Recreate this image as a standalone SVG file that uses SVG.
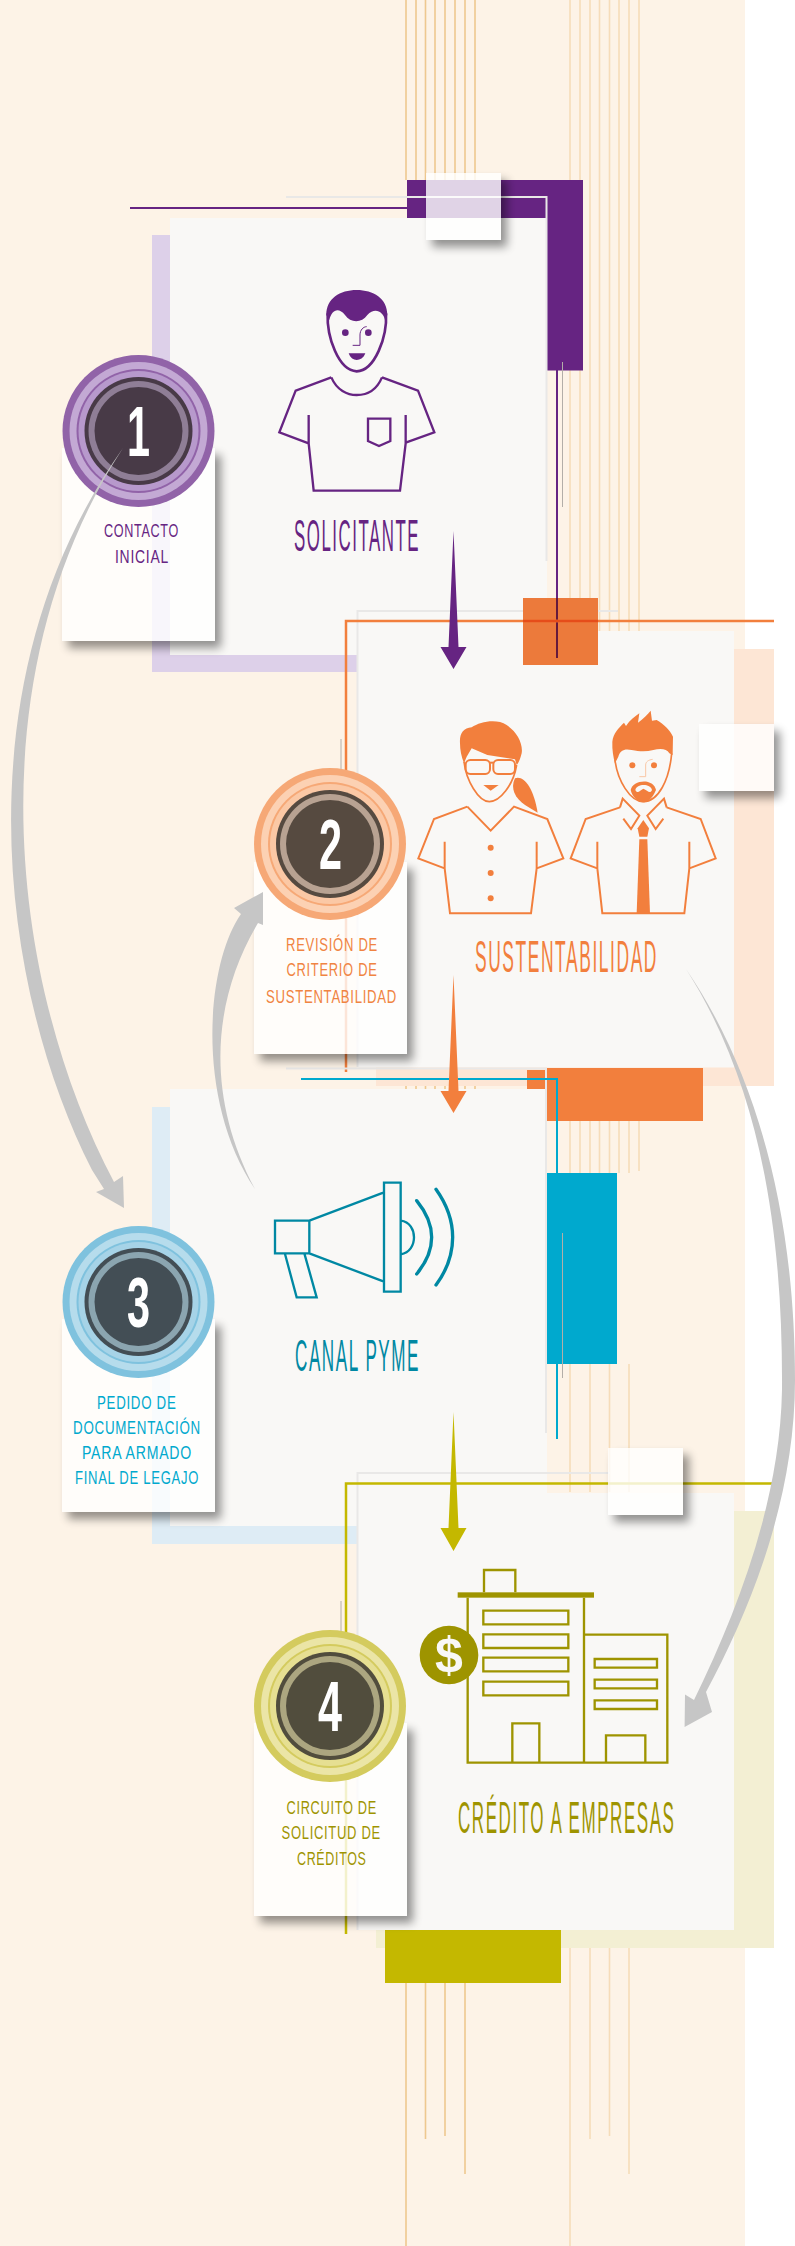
<svg xmlns="http://www.w3.org/2000/svg" width="795" height="2246" viewBox="0 0 795 2246">
<style>
text{font-family:"Liberation Sans Narrow","Liberation Sans","Noto Sans",sans-serif}
.lbl{font-size:18.500px;letter-spacing:1px}
.ttl{font-size:44px;letter-spacing:4px}
.num{font-size:70px;fill:#fff;font-weight:700}
.lg{stroke:#eec88f;stroke-width:1.6;fill:none}
.lr{stroke:#f6dcb9;stroke-width:1.6;fill:none}
.gl{stroke:#e9e8e7;stroke-width:2;fill:none}
.th{stroke:#b3aea8;stroke-width:1;fill:none}
.card{fill:#f9f8f6}
.pane{fill:#fff;fill-opacity:.8;filter:url(#sh)}
.arc{fill:#c6c6c6}
.ic{fill:none;stroke-linejoin:miter}
</style>
<defs>
<filter id="sh" x="-20%" y="-20%" width="150%" height="150%">
<feComponentTransfer in="SourceAlpha" result="solid"><feFuncA type="linear" slope="100"/></feComponentTransfer>
<feOffset in="solid" dx="6" dy="7"/>
<feGaussianBlur stdDeviation="5"/>
<feComponentTransfer result="b"><feFuncA type="linear" slope=".42"/></feComponentTransfer>
<feComposite in="b" in2="solid" operator="out" result="o"/>
<feMerge><feMergeNode in="o"/><feMergeNode in="SourceGraphic"/></feMerge>
</filter>
</defs>
<rect width="745" height="2246" fill="#fdf3e7"/>
<g id="background-lines">
<path class="lg" d="M406,0V180M416,0V180M425.500,0V180M435,0V180M445,0V180M455,0V180M465,0V180M475,0V180"/>
<path class="lr" d="M570,0V631M580,0V631M590,0V631M599.500,0V631M609.500,0V631M619,0V631M629,0V631M639,0V631"/>
<path class="lg" d="M406,1068V1090M416,1068V1090M425.500,1068V1090M435,1068V1090M445,1068V1090M455,1068V1090M465,1068V1090M475,1068V1090"/>
<path class="lr" d="M570,1121V1173M580,1121V1173M590,1121V1173M599.500,1121V1173M609.500,1121V1173M619,1121V1173M629,1121V1173M639,1121V1171"/>
<path class="lr" d="M570,1364V1492M590,1364V1492M609.500,1364V1492M629,1364V1492"/>
<path class="lg" d="M406,1983V2246M425.500,1983V2139M445,1983V2136M465,1983V2174"/>
<path class="lr" d="M570,1948V2246M590,1948V2139M609.500,1948V2136M629,1948V2174"/>
</g>
<g id="panel-solicitante">
<path d="M152,235H170V655H357V672H152Z" fill="#ddd0e9"/>
<path d="M407,180H583V370.500H547V218H407Z" fill="#662482"/>
<rect class="card" x="170" y="218" width="377" height="437"/>
<path d="M130,208H547" stroke="#662482" stroke-width="2"/>
<path class="gl" d="M286,197H546.500V561"/>
<path d="M557,370V598" stroke="#662482" stroke-width="2"/>
<path class="th" d="M562.500,362V507"/>
<rect class="pane" x="426" y="173" width="75" height="67"/>
<g transform="translate(260,270) scale(.33333)">
<path d="M199,135C199,85 240,60 290,60C340,60 382,85 382,135L375,150C370,125 345,110 322,135C305,160 272,160 255,135C235,110 215,120 208,150Z" fill="#662482"/>
<path class="ic" stroke="#662482" stroke-width="8" d="M203,130C200,200 235,302 290,304C345,302 382,200 378,130"/>
<circle cx="256" cy="188" r="10" fill="#662482"/><circle cx="325" cy="188" r="10" fill="#662482"/>
<path class="ic" stroke="#662482" stroke-width="3" d="M278,226H300V195C300,180 310,170 320,170"/>
<path d="M266,250H316C310,265 300,270 290,270C280,270 272,265 266,250Z" fill="#662482"/>
<path class="ic" stroke="#662482" stroke-width="7" d="M214,322L107,362L58,487L146,520M146,435V520L161,662H420L437,520V435M437,518L523,487L474,362L366,322M214,322C230,360 262,375 290,375C320,375 350,360 366,322M324,446H391V513L357,528L324,513Z"/>
</g>
<text class="ttl" transform="translate(294,551) scale(.5,1)" textLength="252" lengthAdjust="spacingAndGlyphs" fill="#662482">SOLICITANTE</text>
</g>
<g id="panel-sustentabilidad">
<path d="M734,649H774V1086H376V1067H734Z" fill="#fde6d5"/>
<rect class="card" x="357" y="631" width="377" height="436.500"/>
<path class="gl" d="M618,611H357.500V1067"/>
<rect x="523" y="598" width="75" height="67" fill="#ec7a3b"/>
<path d="M557,598V658" stroke="#661a3c" stroke-width="2"/>
<path d="M346,1072V621H774" fill="none" stroke="#f27f3d" stroke-width="2.500"/>
<path d="M523,621H598" stroke="#e64d1a" stroke-width="2.500"/>
<rect class="pane" x="699" y="724" width="75" height="67"/>
<g transform="translate(400,700) scale(.33333)" fill="#f27f3d">
<path d="M180,130C178,100 190,85 215,82C240,65 290,55 320,75C350,95 370,130 365,160C360,180 355,190 350,195L345,178L262,165L215,145L200,170L192,190C184,170 180,150 180,130Z"/>
<path class="ic" stroke="#f27f3d" stroke-width="5" d="M192,185C198,240 235,305 268,305C300,305 340,255 350,195"/>
<rect x="197" y="180" width="73" height="42" rx="14" fill="none" stroke="#f27f3d" stroke-width="6"/>
<rect x="280" y="180" width="65" height="42" rx="14" fill="none" stroke="#f27f3d" stroke-width="6"/>
<path d="M270,188H280" stroke="#f27f3d" stroke-width="6"/>
<path d="M250,255H296L272,272Z"/>
<path d="M345,235C370,225 400,260 413,338L375,315C345,295 330,265 345,235Z"/>
<path class="ic" stroke="#f27f3d" stroke-width="6" d="M202,320L102,357L55,475L134,505M134,425V505L150,640H393L410,505V425M410,505L490,475L442,357L342,320L272,392L202,320"/>
<circle cx="272" cy="443" r="9"/><circle cx="272" cy="519" r="9"/><circle cx="272" cy="595" r="9"/>
<path d="M637,125C640,100 655,85 672,68L678,78C690,60 705,50 718,40L714,68C730,55 742,45 752,32L756,62L770,60C790,72 810,90 819,110L818,165L808,160C800,145 780,145 760,150C740,155 720,155 695,150C675,145 660,150 655,170L645,190C640,170 636,150 637,125Z"/>
<path class="ic" stroke="#f27f3d" stroke-width="5" d="M645,180C652,240 690,305 730,305C775,305 808,240 815,160"/>
<path d="M692,270C697,240 760,232 768,270C755,300 740,308 728,307C712,305 697,290 692,270Z"/>
<path d="M706,270C710,250 752,250 756,270C750,284 742,270 730,266C720,270 713,284 706,270Z" fill="#f9f8f6"/>
<circle cx="697" cy="196" r="9"/><circle cx="762" cy="196" r="9"/>
<path class="ic" stroke="#f9c6a4" stroke-width="3" d="M718,230H737V195C737,185 745,180 758,178"/>
<path class="ic" stroke="#f27f3d" stroke-width="6" d="M660,322L557,357L512,475L592,505M592,425V505L607,640H853L868,505V425M868,505L947,475L902,357L800,322M660,322L668,296L718,347L693,387L670,356M800,322L792,296L742,347L767,387L790,356"/>
<path d="M730,360L747,385L742,410H718L713,385Z"/>
<path d="M718,418H742L750,640H710Z"/>
</g>
<text class="ttl" transform="translate(475,972) scale(.5,1)" textLength="366" lengthAdjust="spacingAndGlyphs" fill="#f27f3d">SUSTENTABILIDAD</text>
<rect x="547" y="1068" width="156" height="53" fill="#f27f3d"/>
<rect x="527" y="1070" width="18" height="19" fill="#f27f3d"/>
</g>
<g id="panel-canal-pyme">
<path d="M152,1107H170V1526H357V1544H152Z" fill="#deecf5"/>
<rect class="card" x="170" y="1089" width="377" height="437"/>
<path class="gl" d="M286,1068.600H546V1433"/>
<path d="M301,1079H557V1439" fill="none" stroke="#00a9ce" stroke-width="2"/>
<rect x="547" y="1173" width="70" height="191" fill="#00a9ce"/>
<path class="th" d="M562.500,1233V1378"/>
<g transform="translate(260,1160) scale(.33333)">
<path class="ic" stroke="#0088a3" stroke-width="7" d="M45,182H148V280H45ZM148,182L372,97M148,280L372,365M372,68H422V395H372ZM75,282L110,412H170L133,280M422,182C450,185 462,210 462,232C462,255 450,278 422,283"/>
<path fill="none" stroke="#0088a3" stroke-width="10" stroke-linecap="round" d="M470,122C505,165 515,200 515,232C515,265 505,300 470,342M528,88C565,140 578,190 578,232C578,275 565,325 528,375"/>
</g>
<text class="ttl" transform="translate(295,1371) scale(.5,1)" textLength="250" lengthAdjust="spacingAndGlyphs" fill="#0088a3">CANAL PYME</text>
</g>
<g id="panel-credito">
<path d="M734,1511H774V1948H376V1930H734Z" fill="#f3efd3"/>
<rect class="card" x="357" y="1493" width="377" height="437"/>
<path class="gl" d="M610,1473H357.500V1930"/>
<path d="M346,1934V1483.500H774" fill="none" stroke="#c4b800" stroke-width="2.500"/>
<rect x="385" y="1930" width="176" height="53" fill="#c4b800"/>
<rect class="pane" x="608" y="1448" width="75" height="67"/>
<g transform="translate(400,1550) scale(.33333)">
<rect x="173" y="127" width="409" height="16" fill="#9e9400"/>
<path class="ic" stroke="#9e9400" stroke-width="7" d="M252,127V60H346V127M203,143V638H802V254H552M552,143V638M250,182h255v41h-255zM250,253h255v41h-255zM250,323h255v41h-255zM250,395h255v41h-255zM584,327h187v26h-187zM584,389h187v26h-187zM584,451h187v26h-187zM337,638V520H418V638M618,638V556H736V638"/>
<circle cx="147" cy="315" r="88" fill="#9e9400"/>
</g>
<text x="449" y="1672" text-anchor="middle" font-size="50" font-weight="700" fill="#f9f8f6">$</text>
<text class="ttl" transform="translate(458,1833) scale(.5,1)" textLength="435" lengthAdjust="spacingAndGlyphs" fill="#9e9400">CRÉDITO A EMPRESAS</text>
</g>
<g id="step-1">
<rect class="pane" x="62" y="448" width="153" height="193"/>
<circle cx="138.500" cy="431" r="76" fill="#9163a8"/><circle cx="138.500" cy="431" r="69" fill="#c3a9d4"/><circle cx="138.500" cy="431" r="62" fill="#9163a8"/><circle cx="138.500" cy="431" r="60" fill="#b799cc"/><circle cx="138.500" cy="431" r="54" fill="#483a47"/><circle cx="138.500" cy="431" r="50" fill="#8f7e96"/><circle cx="138.500" cy="431" r="44" fill="#483a47"/>
<text class="num" x="127" y="456" textLength="23" lengthAdjust="spacingAndGlyphs">1</text>
<g fill="#662482"><text class="lbl" x="104" y="537" textLength="75" lengthAdjust="spacingAndGlyphs">CONTACTO</text><text class="lbl" x="115" y="563" textLength="54" lengthAdjust="spacingAndGlyphs">INICIAL</text></g>
</g>
<g id="step-2">
<path class="th" d="M341,739V775"/>
<rect class="pane" x="254" y="862" width="153" height="192"/>
<circle cx="330" cy="844" r="76" fill="#f6a876"/><circle cx="330" cy="844" r="69" fill="#fcd1b3"/><circle cx="330" cy="844" r="62" fill="#f6a876"/><circle cx="330" cy="844" r="60" fill="#fbc8a5"/><circle cx="330" cy="844" r="54" fill="#564a40"/><circle cx="330" cy="844" r="50" fill="#b8a292"/><circle cx="330" cy="844" r="44" fill="#564a40"/>
<text class="num" x="319" y="869" textLength="23" lengthAdjust="spacingAndGlyphs">2</text>
<g fill="#f08442"><text class="lbl" x="286" y="951" textLength="92" lengthAdjust="spacingAndGlyphs">REVISIÓN DE</text><text class="lbl" x="286.500" y="976" textLength="91" lengthAdjust="spacingAndGlyphs">CRITERIO DE</text><text class="lbl" x="266" y="1002.500" textLength="131" lengthAdjust="spacingAndGlyphs">SUSTENTABILIDAD</text></g>
</g>
<g id="step-3">
<rect class="pane" x="62" y="1319" width="153" height="193"/>
<circle cx="138.500" cy="1302" r="76" fill="#7fc2de"/><circle cx="138.500" cy="1302" r="69" fill="#b6dcec"/><circle cx="138.500" cy="1302" r="62" fill="#7fc2de"/><circle cx="138.500" cy="1302" r="60" fill="#a6d3e7"/><circle cx="138.500" cy="1302" r="54" fill="#434e55"/><circle cx="138.500" cy="1302" r="50" fill="#8ba5b0"/><circle cx="138.500" cy="1302" r="44" fill="#434e55"/>
<text class="num" x="127" y="1327" textLength="23" lengthAdjust="spacingAndGlyphs">3</text>
<g fill="#00a9ce"><text class="lbl" x="97" y="1409" textLength="79.500" lengthAdjust="spacingAndGlyphs">PEDIDO DE</text><text class="lbl" x="73" y="1434" textLength="128" lengthAdjust="spacingAndGlyphs">DOCUMENTACIÓN</text><text class="lbl" x="82" y="1459" textLength="110" lengthAdjust="spacingAndGlyphs">PARA ARMADO</text><text class="lbl" x="75" y="1484" textLength="124" lengthAdjust="spacingAndGlyphs">FINAL DE LEGAJO</text></g>
</g>
<g id="step-4">
<path class="th" d="M341,1601V1640"/>
<rect class="pane" x="254" y="1723" width="153" height="193"/>
<circle cx="330" cy="1706" r="76" fill="#d4cb5e"/><circle cx="330" cy="1706" r="69" fill="#ebe5a6"/><circle cx="330" cy="1706" r="62" fill="#d4cb5e"/><circle cx="330" cy="1706" r="60" fill="#e6df92"/><circle cx="330" cy="1706" r="54" fill="#514d3d"/><circle cx="330" cy="1706" r="50" fill="#aca680"/><circle cx="330" cy="1706" r="44" fill="#514d3d"/>
<text class="num" x="318" y="1731" textLength="24" lengthAdjust="spacingAndGlyphs">4</text>
<g fill="#9e9400"><text class="lbl" x="286.500" y="1814" textLength="90.500" lengthAdjust="spacingAndGlyphs">CIRCUITO DE</text><text class="lbl" x="281.500" y="1839" textLength="99.500" lengthAdjust="spacingAndGlyphs">SOLICITUD DE</text><text class="lbl" x="297" y="1864.500" textLength="69.600" lengthAdjust="spacingAndGlyphs">CRÉDITOS</text></g>
</g>
<g id="connectors">
<path fill="#662482" d="M453.500,531L458.500,647H466.500L453.500,669L440.500,647H448.500Z"/>
<path fill="#f27f3d" d="M453.500,975L458.500,1091H466.500L453.500,1113L440.500,1091H448.500Z"/>
<path fill="#c4b800" d="M453.500,1412L458.500,1528H466.500L453.500,1551L440.500,1528H448.500Z"/>
<path class="arc" d="M123,448C-42,680 0,990 92,1170L104,1189L96,1192L124,1208L123,1176L114,1182C12,990 -28,680 123,448Z"/>
<path class="arc" d="M255,1189C195,1100 206,964 241,914L234,908L263,892V925L258,923C212,1000 205,1096 255,1189Z"/>
<path class="arc" d="M686,969C755,1070 795,1210 795,1380C795,1500 750,1610 706,1692L712,1712L684.600,1727L685,1694.600L694,1700C738,1610 780,1500 782,1390C783,1230 760,1085 686,969Z"/>
</g>
</svg>
